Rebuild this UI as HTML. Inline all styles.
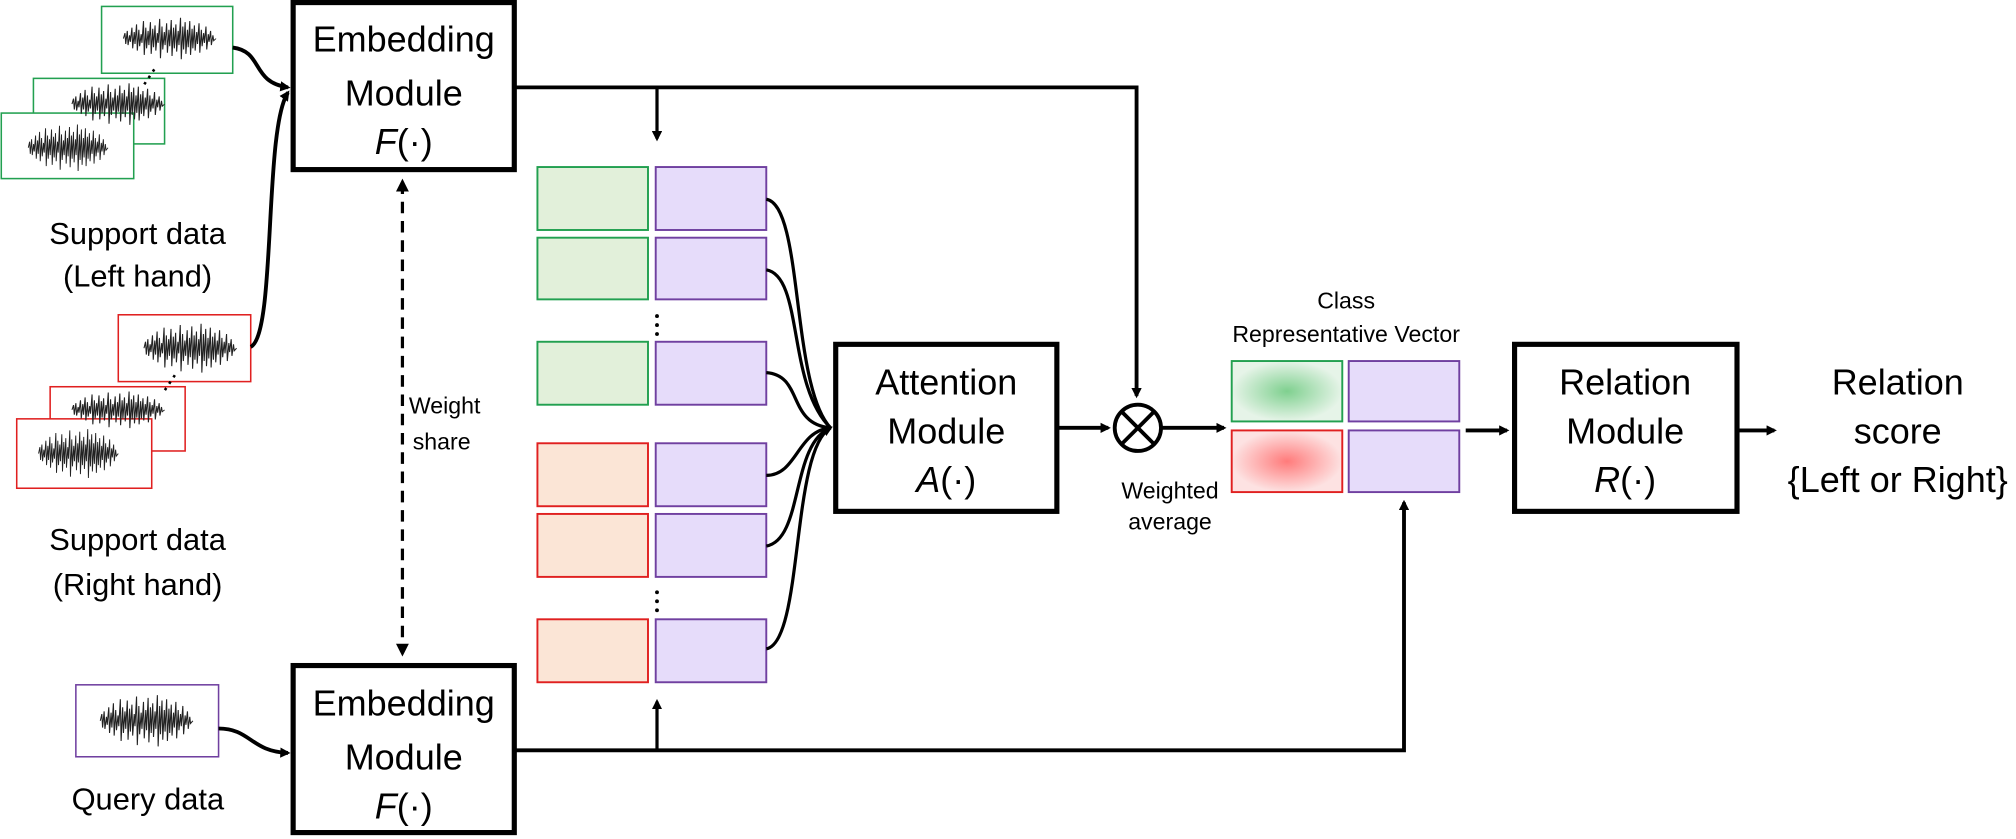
<!DOCTYPE html>
<html><head><meta charset="utf-8"><style>
html,body{margin:0;padding:0;background:#fff;}
svg{display:block;}
text{font-family:"Liberation Sans",sans-serif;fill:#000;}
</style></head><body>
<svg width="2016" height="839" viewBox="0 0 1568 653" preserveAspectRatio="none" xmlns="http://www.w3.org/2000/svg">
<defs>
<marker id="ah" markerWidth="8" markerHeight="8" refX="6" refY="4" orient="auto" markerUnits="userSpaceOnUse"><path d="M0,0 L8,4 L0,8 z" fill="#000"/></marker>
<marker id="ahs" markerWidth="10" markerHeight="10" refX="7" refY="5" orient="auto-start-reverse" markerUnits="userSpaceOnUse"><path d="M0,0 L10,5 L0,10 z" fill="#000"/></marker>
<symbol id="sig" viewBox="0 0 60 40" preserveAspectRatio="none" overflow="visible">
<path d="M0,20 L1,15 L1.5,25 L2.5,13 L3,26 L4,17 L4.5,23 L5.5,10 L6,29 L7,14 L7.5,25 L8.5,7 L9,31 L10,12 L10.5,27 L11.5,16 L12,24 L13,4 L13.5,35 L14.5,10 L15,29 L16,13 L16.5,26 L17.5,5 L18,34 L19,11 L19.5,28 L20.5,8 L21,31 L22,15 L22.5,24 L23.5,2 L24,38 L25,9 L25.5,30 L26.5,14 L27,26 L28,6 L28.5,33 L29.5,12 L30,27 L31,3 L31.5,36 L32.5,10 L33,29 L34,7 L34.5,32 L35.5,13 L36,26 L37,1 L37.5,39 L38.5,9 L39,30 L40,5 L40.5,34 L41.5,12 L42,28 L43,4 L43.5,35 L44.5,11 L45,29 L46,8 L46.5,31 L47.5,14 L48,25 L49,6 L49.5,33 L50.5,12 L51,27 L52,15 L52.5,24 L53.5,9 L54,30 L55,16 L55.5,23 L56.5,13 L57,26 L58,17 L58.5,22 L60,20" fill="none" stroke="#222" stroke-width="0.7"/>
</symbol>
<radialGradient id="gg"><stop offset="0" stop-color="#7fd08f"/><stop offset="1" stop-color="#e6f4e8"/></radialGradient>
<radialGradient id="rg"><stop offset="0" stop-color="#ff7b7b"/><stop offset="1" stop-color="#fde2e2"/></radialGradient>
</defs>

<g stroke="#22a050" stroke-width="1.2" fill="#fff">
<rect x="79" y="5" width="102" height="52"/>
<rect x="26" y="61" width="102" height="51"/>
<rect x="1" y="88" width="103" height="51"/>
</g>
<use href="#sig" x="96" y="13" width="72" height="34"/>
<use href="#sig" x="56" y="64" width="72" height="34"/>
<use href="#sig" x="22" y="96" width="62" height="38"/>
<path d="M120,54 L112,66" stroke="#000" stroke-width="2" stroke-dasharray="2,4"/>
<g stroke="#e02020" stroke-width="1.2" fill="#fff">
<rect x="92" y="245" width="103" height="52"/>
<rect x="39" y="301" width="105" height="50"/>
<rect x="13" y="326" width="105" height="54"/>
</g>
<use href="#sig" x="112" y="251" width="72" height="40"/>
<use href="#sig" x="56" y="304" width="72" height="30"/>
<use href="#sig" x="30" y="333" width="62" height="40"/>
<path d="M136,292 L128,304" stroke="#000" stroke-width="2" stroke-dasharray="2,4"/>
<rect x="59" y="533" width="111" height="56" stroke="#7040a0" stroke-width="1.2" fill="#fff"/>
<use href="#sig" x="78" y="540" width="72" height="42"/>

<text x="107" y="190" font-size="24" text-anchor="middle">Support data</text>
<text x="107" y="223" font-size="24" text-anchor="middle">(Left hand)</text>
<text x="107" y="428" font-size="24" text-anchor="middle">Support data</text>
<text x="107" y="463" font-size="24" text-anchor="middle">(Right hand)</text>
<text x="115" y="630" font-size="24" text-anchor="middle">Query data</text>

<g fill="none" stroke="#000" stroke-width="3">
<path d="M181,37 C205,40 195,64 224,68" marker-end="url(#ah)"/>
<path d="M195,270 C215,260 205,100 224,72" marker-end="url(#ah)"/>
<path d="M170,567 C195,567 195,585 224,586" marker-end="url(#ah)"/>
</g>

<g stroke="#000" stroke-width="4" fill="#fff">
<rect x="228" y="2" width="172" height="130"/>
<rect x="228" y="518" width="172" height="130"/>
<rect x="650" y="268" width="172" height="130"/>
<rect x="1178" y="268" width="173" height="130"/>
</g>
<g font-size="28" text-anchor="middle">
<text x="314" y="40">Embedding</text>
<text x="314" y="82">Module</text>
<text x="314" y="120"><tspan font-style="italic">F</tspan>(·)</text>
<text x="314" y="557">Embedding</text>
<text x="314" y="599">Module</text>
<text x="314" y="637"><tspan font-style="italic">F</tspan>(·)</text>
<text x="736" y="307">Attention</text>
<text x="736" y="345">Module</text>
<text x="736" y="383"><tspan font-style="italic">A</tspan>(·)</text>
<text x="1264" y="307">Relation</text>
<text x="1264" y="345">Module</text>
<text x="1264" y="383"><tspan font-style="italic">R</tspan>(·)</text>
<text x="1476" y="307">Relation</text>
<text x="1476" y="345">score</text>
<text x="1476" y="383">{Left or Right}</text>
</g>

<line x1="313" y1="142" x2="313" y2="508" stroke="#000" stroke-width="2.5" stroke-dasharray="9,6" marker-start="url(#ahs)" marker-end="url(#ahs)"/>
<text x="318" y="322" font-size="18">Weight</text>
<text x="321" y="350" font-size="18">share</text>

<g fill="none" stroke="#000" stroke-width="3">
<path d="M400,68 L884,68 L884,308" marker-end="url(#ah)"/>
<path d="M511,68 L511,108" marker-end="url(#ah)" stroke-width="2.5"/>
<path d="M400,584 L1092,584 L1092,391" marker-end="url(#ah)"/>
<path d="M511,584 L511,546" marker-end="url(#ah)" stroke-width="2.5"/>
</g>

<g stroke-width="1.5">
<rect x="418" y="130" width="86" height="49" fill="#e2f0da" stroke="#22a050"/>
<rect x="418" y="185" width="86" height="48" fill="#e2f0da" stroke="#22a050"/>
<rect x="418" y="266" width="86" height="49" fill="#e2f0da" stroke="#22a050"/>
<rect x="418" y="345" width="86" height="49" fill="#fbe5d6" stroke="#e02020"/>
<rect x="418" y="400" width="86" height="49" fill="#fbe5d6" stroke="#e02020"/>
<rect x="418" y="482" width="86" height="49" fill="#fbe5d6" stroke="#e02020"/>
<g fill="#e6dcfa" stroke="#7040a0">
<rect x="510" y="130" width="86" height="49"/>
<rect x="510" y="185" width="86" height="48"/>
<rect x="510" y="266" width="86" height="49"/>
<rect x="510" y="345" width="86" height="49"/>
<rect x="510" y="400" width="86" height="49"/>
<rect x="510" y="482" width="86" height="49"/>
</g>
</g>
<g fill="#000"><circle cx="511" cy="246" r="1.5"/><circle cx="511" cy="253" r="1.5"/><circle cx="511" cy="260" r="1.5"/>
<circle cx="511" cy="461" r="1.5"/><circle cx="511" cy="468" r="1.5"/><circle cx="511" cy="475" r="1.5"/></g>

<g fill="none" stroke="#000" stroke-width="2.5">
<path d="M596,155 C625,160 615,300 646,333"/>
<path d="M596,210 C625,215 612,300 646,333"/>
<path d="M596,290 C625,292 612,330 646,333"/>
<path d="M596,370 C620,370 620,335 646,333"/>
<path d="M596,425 C625,420 615,345 646,333"/>
<path d="M596,505 C625,500 615,350 646,333" marker-end="url(#ah)"/>
</g>

<g fill="none" stroke="#000" stroke-width="3">
<path d="M822,333 L862,333" marker-end="url(#ah)"/>
<circle cx="885" cy="333" r="18"/>
<path d="M872,320 L898,346 M898,320 L872,346"/>
<path d="M903,333 L952,333" marker-end="url(#ah)"/>
<path d="M1140,335 L1172,335" marker-end="url(#ah)"/>
<path d="M1351,335 L1380,335" marker-end="url(#ah)"/>
</g>
<text x="910" y="388" font-size="18" text-anchor="middle">Weighted</text>
<text x="910" y="412" font-size="18" text-anchor="middle">average</text>
<text x="1047" y="240" font-size="18" text-anchor="middle">Class</text>
<text x="1047" y="266" font-size="18" text-anchor="middle">Representative Vector</text>

<g stroke-width="1.5">
<rect x="958" y="281" width="86" height="47" fill="url(#gg)" stroke="#22a050"/>
<rect x="958" y="335" width="86" height="48" fill="url(#rg)" stroke="#e02020"/>
<rect x="1049" y="281" width="86" height="47" fill="#e6dcfa" stroke="#7040a0"/>
<rect x="1049" y="335" width="86" height="48" fill="#e6dcfa" stroke="#7040a0"/>
</g>
</svg>
</body></html>
